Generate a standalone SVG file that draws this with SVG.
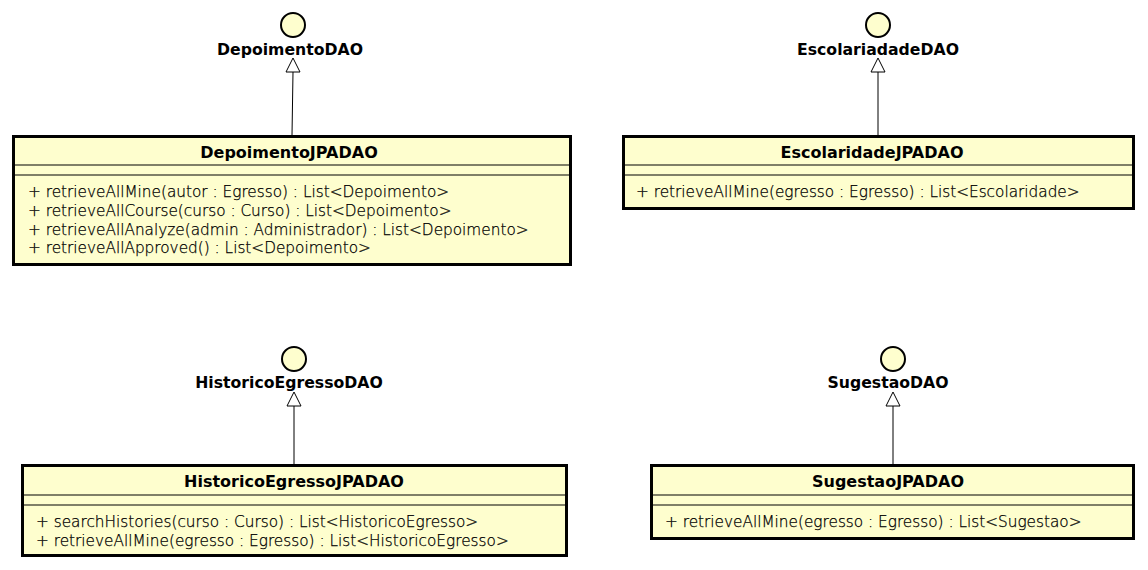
<svg xmlns="http://www.w3.org/2000/svg" width="1148" height="570" viewBox="0 0 1148 570">
<style>
.box{fill:#FEFECE;stroke:#000;stroke-width:3}
.div{stroke:#000;stroke-width:1.2}
.ci{fill:#FEFECE;stroke:#000;stroke-width:2}
.t{font-family:"DejaVu Sans",sans-serif;font-size:16px;font-weight:bold;text-anchor:middle;fill:#000}
.l{font-family:"DejaVu Sans",sans-serif;font-size:15.7px;font-weight:bold;text-anchor:middle;fill:#000}
.m{font-family:"DejaVu Sans",sans-serif;font-size:15.3px;font-weight:200;fill:#000;stroke:#000;stroke-width:0.25}
.e{stroke:#000;stroke-width:1;fill:none}
.tri{fill:#fff;stroke:#000;stroke-width:1}
</style>
<g id="DepoimentoDAO">
<circle class="ci" cx="293" cy="25" r="12"/>
<text class="l" x="290" y="55">DepoimentoDAO</text>
</g>
<g id="EscolariadadeDAO">
<circle class="ci" cx="878" cy="25" r="12"/>
<text class="l" x="878" y="55">EscolariadadeDAO</text>
</g>
<g id="HistoricoEgressoDAO">
<circle class="ci" cx="294" cy="359" r="12"/>
<text class="l" x="289" y="388">HistoricoEgressoDAO</text>
</g>
<g id="SugestaoDAO">
<circle class="ci" cx="893" cy="359" r="12"/>
<text class="l" x="888" y="388">SugestaoDAO</text>
</g>
<g id="DepoimentoJPADAO">
<rect class="box" x="13.5" y="136.5" width="557" height="128"/>
<line class="div" x1="15" y1="165" x2="569" y2="165"/>
<line class="div" x1="15" y1="175" x2="569" y2="175"/>
<text class="t" x="289" y="157.5">DepoimentoJPADAO</text>
<text class="m" x="28" y="197">+ retrieveAllMine(autor : Egresso) : List&lt;Depoimento&gt;</text>
<text class="m" x="28" y="216">+ retrieveAllCourse(curso : Curso) : List&lt;Depoimento&gt;</text>
<text class="m" x="28" y="234.5">+ retrieveAllAnalyze(admin : Administrador) : List&lt;Depoimento&gt;</text>
<text class="m" x="28" y="253">+ retrieveAllApproved() : List&lt;Depoimento&gt;</text>
</g>
<g id="EscolaridadeJPADAO">
<rect class="box" x="623.5" y="136.5" width="510" height="72"/>
<line class="div" x1="625" y1="165" x2="1132" y2="165"/>
<line class="div" x1="625" y1="175" x2="1132" y2="175"/>
<text class="t" x="872" y="157.5">EscolaridadeJPADAO</text>
<text class="m" x="636" y="197">+ retrieveAllMine(egresso : Egresso) : List&lt;Escolaridade&gt;</text>
</g>
<g id="HistoricoEgressoJPADAO">
<rect class="box" x="22.5" y="465.5" width="544" height="90"/>
<line class="div" x1="24" y1="495" x2="565" y2="495"/>
<line class="div" x1="24" y1="505" x2="565" y2="505"/>
<text class="t" x="294" y="486.5">HistoricoEgressoJPADAO</text>
<text class="m" x="36" y="527">+ searchHistories(curso : Curso) : List&lt;HistoricoEgresso&gt;</text>
<text class="m" x="36" y="545.5">+ retrieveAllMine(egresso : Egresso) : List&lt;HistoricoEgresso&gt;</text>
</g>
<g id="SugestaoJPADAO">
<rect class="box" x="651.5" y="465.5" width="482" height="73"/>
<line class="div" x1="653" y1="495" x2="1132" y2="495"/>
<line class="div" x1="653" y1="505" x2="1132" y2="505"/>
<text class="t" x="888" y="486.5">SugestaoJPADAO</text>
<text class="m" x="665" y="527">+ retrieveAllMine(egresso : Egresso) : List&lt;Sugestao&gt;</text>
</g>
<g id="connectors">
<path class="e" d="M292,135 L293,72"/>
<polygon class="tri" points="293,58 286,72 300,72"/>
<path class="e" d="M878,135 L878,72"/>
<polygon class="tri" points="878,58 871,72 885,72"/>
<path class="e" d="M294,464 L294,406"/>
<polygon class="tri" points="294,392 287,406 301,406"/>
<path class="e" d="M893,464 L893,406"/>
<polygon class="tri" points="893,392 886,406 900,406"/>
</g>
</svg>
